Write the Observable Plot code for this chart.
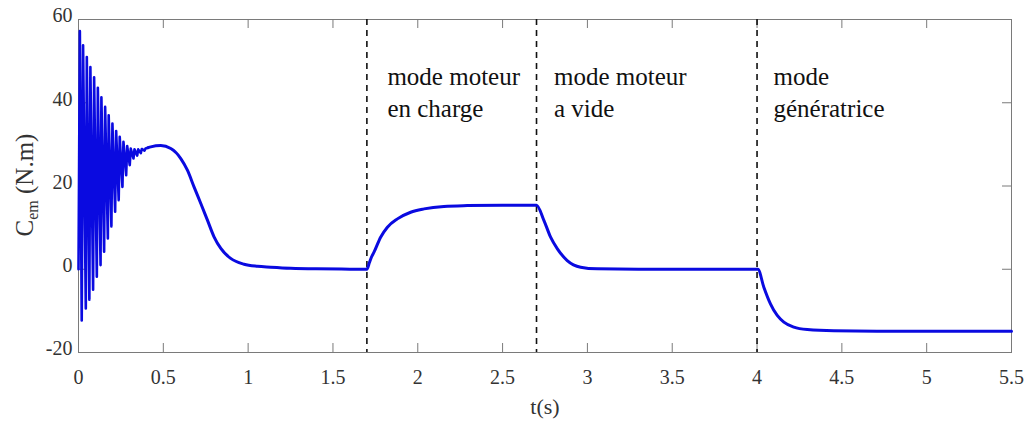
<!DOCTYPE html>
<html><head><meta charset="utf-8">
<script src="https://cdn.jsdelivr.net/npm/d3@7"></script>
<script src="https://cdn.jsdelivr.net/npm/@observablehq/plot@0.6"></script>
<style>body{margin:0;background:#fff} svg{display:block}</style>
</head><body><div id="chart"></div>
<script>
// Start-up oscillation (alternating peaks / troughs)
const oscT = [0, 0.008, 0.019, 0.027, 0.043, 0.049, 0.064, 0.070, 0.086, 0.092, 0.108, 0.114, 0.130, 0.135, 0.151, 0.157, 0.173, 0.178, 0.194, 0.200, 0.216, 0.222, 0.237, 0.243, 0.259, 0.265, 0.281, 0.287, 0.302, 0.308, 0.324, 0.330, 0.346, 0.352, 0.367, 0.373, 0.389, 0.395, 0.410];
const oscV = [0, 57.2, -12.3, 53.8, -9.4, 51.0, -7.3, 48.6, -4.9, 46.1, -1.8, 43.6, 1.0, 41.3, 4.2, 39.0, 7.4, 37.0, 10.3, 35.0, 13.8, 33.2, 16.6, 31.8, 19.8, 30.6, 22.6, 29.6, 25.0, 29.0, 26.6, 28.8, 27.3, 28.8, 27.9, 28.9, 28.5, 29.0, 29.2];
// Smooth part of the torque curve
const smoothT = [0.410, 0.426, 0.485, 0.544, 0.603, 0.642, 0.681, 0.721, 0.760, 0.799, 0.839, 0.897, 0.976, 1.055, 1.133, 1.25, 1.40, 1.55, 1.70,
  1.715, 1.728, 1.742, 1.781, 1.821, 1.880, 1.958, 2.037, 2.154, 2.292, 2.50, 2.70,
  2.744, 2.783, 2.823, 2.881, 2.960, 3.058, 3.30, 3.60, 4.005,
  4.040, 4.079, 4.119, 4.158, 4.217, 4.296, 4.453, 4.846, 5.50];
const smoothV = [29.2, 29.4, 29.7, 29.0, 26.6, 23.8, 19.8, 15.8, 11.8, 7.8, 5.0, 2.6, 1.2, 0.7, 0.5, 0.25, 0.1, 0.05, 0.0,
  1.6, 3.0, 4.1, 7.7, 10.1, 12.1, 13.7, 14.5, 15.1, 15.3, 15.4, 15.4,
  11.7, 7.7, 4.9, 2.1, 0.5, 0.1, 0.0, 0.0, 0.0,
  -4.3, -8.3, -11.1, -12.7, -13.9, -14.5, -14.8, -14.9, -14.9];
// Mode change instants and annotations
const modeTimes = [1.7, 2.7, 4.0];
const labelT = [1.821, 2.803, 4.097];
const labelV = [36.5, 36.5, 36.5];
const labelText = ["mode moteur\nen charge", "mode moteur\na vide", "mode\ngénératrice"];
// Axes
const xTicks = [0, 0.5, 1, 1.5, 2, 2.5, 3, 3.5, 4, 4.5, 5, 5.5];
const xTickLabels = ["0", "0.5", "1", "1.5", "2", "2.5", "3", "3.5", "4", "4.5", "5", "5.5"];
const yTicks = [-20, 0, 20, 40, 60];
const yTickLabels = ["-20", "0", "20", "40", "60"];
const xTitle = "t(s)";

const osc = oscT.map((t, i) => ({t, v: oscV[i]}));
const smooth = smoothT.map((t, i) => ({t, v: smoothV[i]}));
const labels = labelT.map((t, i) => ({t, v: labelV[i], text: labelText[i]}));

const W = 1030, H = 421, mL = 78, mR = 19, mT = 19, mB = 69;
const innerW = W - mL - mR, innerH = H - mT - mB;
const tickLen = 9;
const gray = "#7a7a7a";
const blue = "#0a0ae0";
const serif = "Liberation Serif";

const plot = Plot.plot({
  width: W, height: H,
  marginLeft: mL, marginRight: mR, marginTop: mT, marginBottom: mB,
  style: {fontFamily: serif, fontSize: "20px", background: "white", color: "#333"},
  x: {domain: [0, 5.5]},
  y: {domain: [-20, 60]},
  marks: [
    Plot.frame({stroke: gray, strokeWidth: 1}),
    Plot.tickX(xTicks, {x: d => d, stroke: gray, insetTop: innerH - tickLen}),
    Plot.tickX(xTicks, {x: d => d, stroke: gray, insetBottom: innerH - tickLen}),
    Plot.tickY(yTicks, {y: d => d, stroke: gray, insetRight: innerW - tickLen}),
    Plot.tickY(yTicks, {y: d => d, stroke: gray, insetLeft: innerW - tickLen}),
    Plot.ruleX(modeTimes, {x: d => d, stroke: "#111", strokeWidth: 1.6, strokeDasharray: "6,5"}),
    Plot.line(osc, {x: "t", y: "v", stroke: blue, strokeWidth: 2.6, curve: "linear"}),
    Plot.line(smooth, {x: "t", y: "v", stroke: blue, strokeWidth: 3, curve: "monotone-x"}),
    Plot.text(labels, {x: "t", y: "v", text: "text", textAnchor: "start", lineAnchor: "bottom", lineHeight: 1.28, fontSize: 25, fill: "#111", fontFamily: serif}),
    Plot.axisX({ticks: xTicks, tickFormat: (d, i) => xTickLabels[i], tickSize: 0, tickPadding: 17, fontSize: 20, fill: "#333", label: null, fontFamily: serif}),
    Plot.axisY({ticks: yTicks, tickFormat: (d, i) => yTickLabels[i], tickSize: 0, tickPadding: 6, dy: -3.5, fontSize: 20, fill: "#333", label: null, fontFamily: serif}),
    Plot.text([xTitle], {frameAnchor: "bottom", lineAnchor: "bottom", dy: 61, fontSize: 22, fill: "#333", fontFamily: serif})
  ]
});

// y-axis title with subscript
const svg = d3.select(plot);
const yt = svg.append("text")
  .attr("transform", "translate(33,185) rotate(-90)")
  .attr("text-anchor", "middle")
  .attr("fill", "#333")
  .attr("font-family", serif)
  .attr("font-size", 25);
yt.append("tspan").text("C");
yt.append("tspan").attr("font-size", 16).attr("dy", 5).text("em");
yt.append("tspan").attr("dy", -5).text(" (N.m)");
svg.selectAll("text").attr("font-family", serif).style("font-family", serif);

document.getElementById("chart").appendChild(plot);
</script>
</body></html>
